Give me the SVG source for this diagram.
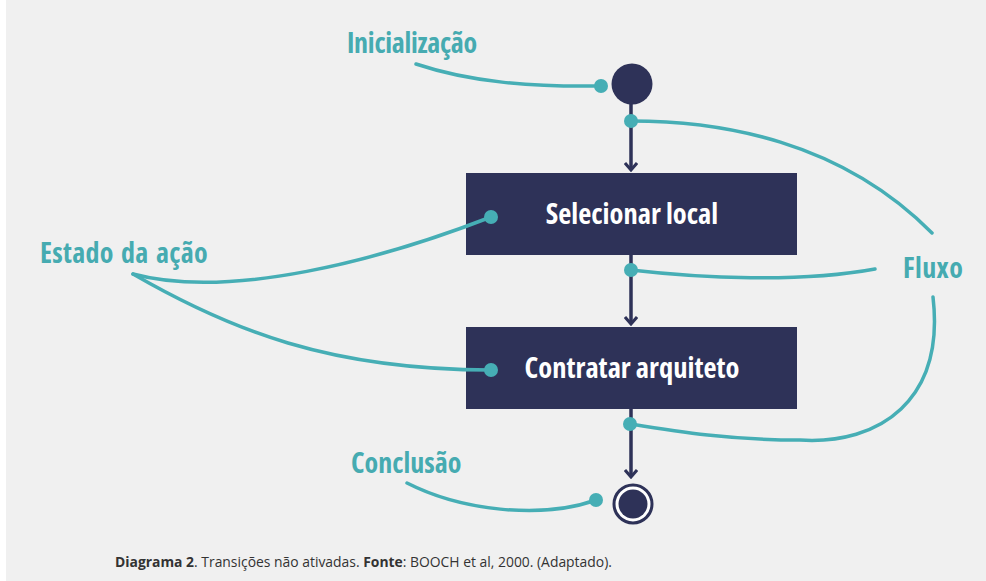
<svg xmlns="http://www.w3.org/2000/svg" width="986" height="581" viewBox="0 0 986 581">
<defs>
<style>
.lbl{font-family:"Open Sans","DejaVu Sans Condensed","Liberation Sans Narrow",sans-serif;font-stretch:condensed;font-weight:700;fill:#46abb1;font-size:28px}
.box{fill:#2e3258}
.boxt{font-family:"Open Sans","DejaVu Sans Condensed",sans-serif;font-stretch:condensed;font-weight:700;fill:#ffffff;font-size:28.5px;text-anchor:middle}
.lead{fill:none;stroke:#46aeb5;stroke-width:3.5;stroke-linecap:round}
.dot{fill:#46aeb5}
.flow{stroke:#2e3258;stroke-width:3.5;fill:none}
.cap{font-family:"Open Sans",sans-serif;font-size:13.9px;fill:#333333}
</style>
<marker id="ah" viewBox="0 0 10 14" refX="8" refY="7" markerWidth="10" markerHeight="14" markerUnits="userSpaceOnUse" orient="auto">
<path d="M1,1 L8,7 L1,13" fill="none" stroke="#2e3258" stroke-width="3"/>
</marker>
</defs>
<rect x="0" y="0" width="986" height="581" fill="#ffffff"/>
<rect x="6" y="0" width="980" height="581" fill="#f0f0f0"/>

<g id="connectors">
<line class="flow" x1="631" y1="100" x2="631" y2="170" marker-end="url(#ah)"/>
<line class="flow" x1="631" y1="255" x2="631" y2="324" marker-end="url(#ah)"/>
<line class="flow" x1="631" y1="409" x2="631" y2="477" marker-end="url(#ah)"/>
</g>

<g id="start">
<circle cx="632" cy="84" r="20.5" fill="#2e3258"/>
</g>

<g id="selecionar-local">
<rect class="box" x="466" y="173" width="331" height="82"/>
<text class="boxt" x="632" y="224">Selecionar local</text>
</g>

<g id="contratar-arquiteto">
<rect class="box" x="466" y="327" width="331" height="82"/>
<text class="boxt" x="632" y="378">Contratar arquiteto</text>
</g>

<g id="end">
<circle cx="633" cy="504" r="19" fill="#ffffff" stroke="#2e3258" stroke-width="3"/>
<circle cx="633" cy="504" r="14.5" fill="#2e3258"/>
</g>

<g id="annotations">
<path class="lead" d="M416,64 C470,82 530,87 600,86"/>
<circle class="dot" cx="601" cy="86" r="7"/>
<text class="lbl" x="347" y="53" letter-spacing="-0.3">Inicialização</text>

<text class="lbl" x="40" y="263" letter-spacing="0.3" word-spacing="2">Estado da ação</text>
<path class="lead" d="M133,274 C230,300 380,260 491,217"/>
<circle class="dot" cx="491" cy="217" r="7"/>
<path class="lead" d="M133,274 C230,330 330,370 491,370"/>
<circle class="dot" cx="491" cy="370" r="7"/>

<text class="lbl" x="903" y="278" letter-spacing="0.4">Fluxo</text>
<path class="lead" d="M631,121 C720,121 840,140 932,233"/>
<circle class="dot" cx="631" cy="121" r="7"/>
<path class="lead" d="M631,270 C700,278 800,283 875,269"/>
<circle class="dot" cx="631" cy="270" r="7"/>
<path class="lead" d="M933,297 C945,400 880,445 800,440 C730,440 680,432 631,424"/>
<circle class="dot" cx="630" cy="424" r="7"/>

<text class="lbl" x="351" y="473">Conclusão</text>
<path class="lead" d="M407,483 C460,510 540,520 596,500"/>
<circle class="dot" cx="596" cy="500" r="7"/>
</g>

<text class="cap" x="115" y="567"><tspan font-weight="700">Diagrama 2</tspan>. Transições não ativadas. <tspan font-weight="700">Fonte</tspan>: BOOCH et al, 2000. (Adaptado).</text>
</svg>
